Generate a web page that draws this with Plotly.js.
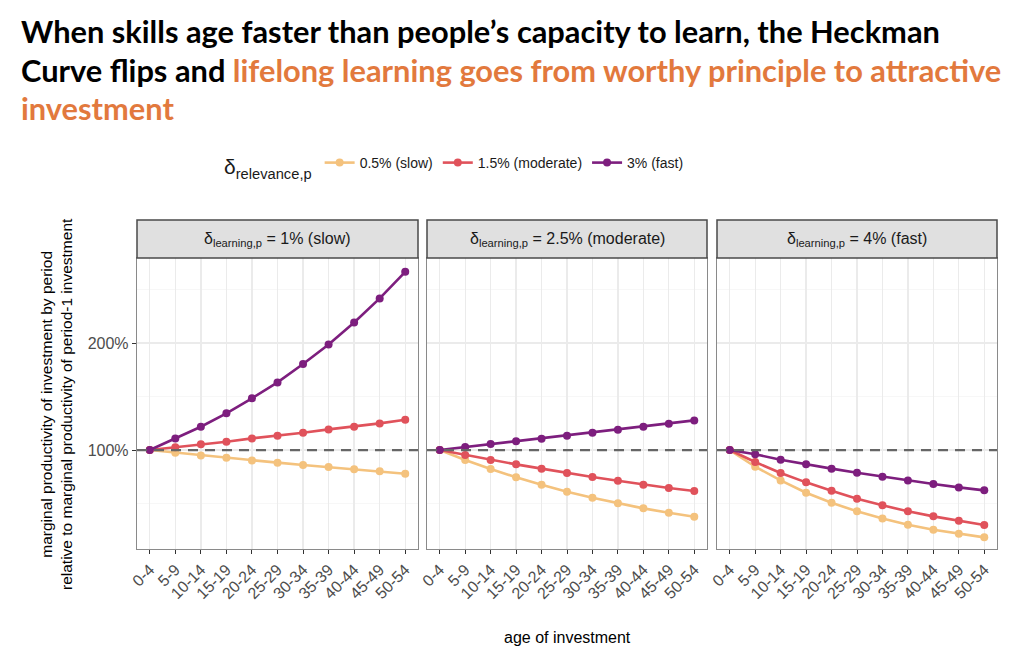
<!DOCTYPE html>
<html>
<head>
<meta charset="utf-8">
<script src="https://cdn.plot.ly/plotly-3.0.1.min.js"></script>
<style>html,body{margin:0;padding:0;background:#fff;}#chart{width:1030px;height:667px;}</style>
</head>
<body>
<div id="chart"></div>
<script>
// ---- data ----
const ages = ["0-4","5-9","10-14","15-19","20-24","25-29","30-34","35-39","40-44","45-49","50-54"];
const seriesNames = ["0.5% (slow)","1.5% (moderate)","3% (fast)"];
const panelTitles = [
  "δ<sub>learning,p</sub> = 1% (slow)",
  "δ<sub>learning,p</sub> = 2.5% (moderate)",
  "δ<sub>learning,p</sub> = 4% (fast)"
];
const titleLines = [
  "When skills age faster than people’s capacity to learn, the Heckman",
  "Curve flips and <span style='color:#E2793D'>lifelong learning goes from worthy principle to attractive</span>",
  "<span style='color:#E2793D'>investment</span>"
];
// panel 1: learning 1% (slow)
const p1_slow = [100, 97.5, 95.0, 92.8, 90.3, 88.2, 86.0, 84.1, 82.0, 80.1, 77.9];
const p1_mod  = [100, 102.5, 105.3, 107.8, 110.9, 113.4, 116.2, 119.3, 121.8, 124.9, 128.3];
const p1_fast = [100, 110.9, 121.8, 134.3, 148.3, 163.2, 180.4, 198.7, 219.3, 241.7, 266.6];
// panel 2: learning 2.5% (moderate)
const p2_slow = [100, 90.7, 82.2, 74.5, 67.6, 61.0, 55.4, 50.2, 45.5, 41.4, 37.7];
const p2_mod  = [100, 95.3, 90.7, 86.6, 82.6, 78.5, 74.8, 71.3, 67.6, 64.5, 61.7];
const p2_fast = [100, 102.8, 105.6, 108.1, 110.6, 113.4, 116.2, 119.0, 121.8, 124.6, 127.7];
// panel 3: learning 4% (fast)
const p3_slow = [100, 84.4, 71.6, 60.1, 50.7, 42.7, 36.1, 30.2, 25.5, 21.8, 18.4];
const p3_mod  = [100, 88.8, 78.5, 69.8, 62.0, 54.5, 48.3, 42.7, 38.0, 33.9, 29.9];
const p3_fast = [100, 96.0, 91.0, 86.6, 82.6, 78.8, 75.1, 71.6, 68.2, 65.1, 62.3];
const yTicks = [100, 200];
const yTickText = ["100%", "200%"];

// ---- styling ----
const colors = ["#F4C27D", "#E0525B", "#7D1E7E"];
const panels = [[p1_slow,p1_mod,p1_fast],[p2_slow,p2_mod,p2_fast],[p3_slow,p3_mod,p3_fast]];
const traces = [];
panels.forEach((pan, pi) => {
  pan.forEach((vals, si) => {
    traces.push({
      type: "scatter", mode: "lines+markers",
      x: ages, y: vals,
      xaxis: pi === 0 ? "x" : "x" + (pi + 1),
      yaxis: pi === 0 ? "y" : "y" + (pi + 1),
      name: seriesNames[si],
      legendgroup: seriesNames[si],
      showlegend: pi === 0,
      line: {color: colors[si], width: 2.6},
      marker: {color: colors[si], size: 8},
      hoverinfo: "skip"
    });
  });
});

const plotL = 137, plotR = 997, W = 1030, H = 667, plotT = 258, plotB = 549;
const pw = plotR - plotL, ph = plotB - plotT;
const pxDomains = [[137, 418], [427, 707], [717, 997]];
const domains = pxDomains.map(d => [(d[0]-plotL)/pw, (d[1]-plotL)/pw]);
const fam = "Liberation Sans, Arial, sans-serif";
const tickFont = {family: fam, size: 16, color: "#4D4D4D"};
const py = v => 1 + (plotT - v) / ph;   // pixel row -> paper y
const px = v => (v - plotL) / pw;       // pixel col -> paper x

const layout = {
  width: W, height: H,
  margin: {l: plotL, r: W - plotR, t: plotT, b: H - plotB, pad: 0},
  paper_bgcolor: "#fff", plot_bgcolor: "#fff",
  font: {family: fam, color: "#000"},
  showlegend: true,
  legend: {
    orientation: "h",
    x: px(222), xanchor: "left",
    y: py(166), yanchor: "middle",
    font: {family: fam, size: 14, color: "#1A1A1A"},
    title: {text: "δ<sub>relevance,p</sub>", font: {size: 21, color: "#1A1A1A"}, side: "left"},
    itemwidth: 30, tracegroupgap: 0
  },
  shapes: [],
  annotations: []
};

// title lines
const titleRows = [31, 70, 108];
titleLines.forEach((t, i) => {
  layout.annotations.push({
    xref: "paper", yref: "paper", x: px(19), y: py(titleRows[i]),
    xanchor: "left", yanchor: "middle", showarrow: false, align: "left",
    text: t,
    font: {family: "Lato, sans-serif", size: 30.8, color: "#000", weight: "bold"}
  });
});

for (let i = 0; i < 3; i++) {
  const xa = i === 0 ? "xaxis" : "xaxis" + (i + 1);
  const ya = i === 0 ? "yaxis" : "yaxis" + (i + 1);
  const yid = i === 0 ? "y" : "y" + (i + 1);
  const xid = i === 0 ? "x" : "x" + (i + 1);
  layout[xa] = {
    domain: domains[i], anchor: yid,
    type: "category", categoryorder: "array", categoryarray: ages,
    range: [-0.5, 10.5],
    showgrid: true, gridcolor: "#EBEBEB", gridwidth: 1.3,
    showline: true, mirror: true, linecolor: "#8A8A8A", linewidth: 1.2,
    ticks: "outside", ticklen: 4, tickcolor: "#333", tickwidth: 1,
    tickangle: -45, tickfont: tickFont, zeroline: false, fixedrange: true
  };
  layout[ya] = {
    domain: [0, 1], anchor: xid,
    range: [7.5, 279.5],
    tickvals: yTicks, ticktext: yTickText,
    showticklabels: i === 0,
    ticks: i === 0 ? "outside" : "", ticklen: 4, tickcolor: "#333",
    showgrid: true, gridcolor: "#EBEBEB", gridwidth: 1.3,
    minor: {tickvals: [50, 150, 250], showgrid: true, gridcolor: "#F4F4F4", gridwidth: 0.7},
    showline: true, mirror: true, linecolor: "#8A8A8A", linewidth: 1.2,
    tickfont: tickFont, zeroline: false, fixedrange: true
  };
  if (i > 0) layout[ya].matches = "y";
  // reference line at 100%
  layout.shapes.push({
    type: "line", xref: xid + " domain", yref: yid,
    x0: 0, x1: 1, y0: 100, y1: 100,
    line: {color: "#666666", width: 2.2, dash: "10px,7px"}, layer: "above"
  });
  // strip
  layout.shapes.push({
    type: "rect", xref: "paper", yref: "paper",
    x0: domains[i][0], x1: domains[i][1],
    y0: 1, y1: py(220),
    fillcolor: "#E0E0E0", line: {color: "#4A4A4A", width: 1.5}
  });
  layout.annotations.push({
    xref: "paper", yref: "paper",
    x: (domains[i][0] + domains[i][1]) / 2, y: py(239),
    xanchor: "center", yanchor: "middle",
    text: panelTitles[i], showarrow: false,
    font: {family: fam, size: 16, color: "#1A1A1A"}
  });
}
// axis titles
layout.annotations.push({
  xref: "paper", yref: "paper", x: 0.5, y: py(637),
  xanchor: "center", yanchor: "middle", showarrow: false,
  text: "age of investment",
  font: {family: fam, size: 16, color: "#000"}
});
layout.annotations.push({
  xref: "paper", yref: "paper", x: px(56), y: py(404),
  xanchor: "center", yanchor: "middle", showarrow: false, textangle: -90,
  text: "marginal productivity of investment by period<br>relative to marginal productivity of period-1 investment",
  font: {family: fam, size: 15.5, color: "#000"}
});

Plotly.newPlot("chart", traces, layout, {displayModeBar: false, staticPlot: true});
</script>
</body>
</html>
